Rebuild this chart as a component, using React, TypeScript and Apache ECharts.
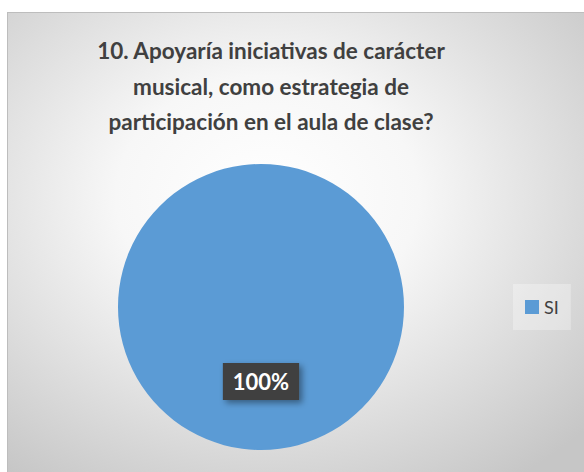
import React, { useEffect, useRef } from "react";
import * as echarts from "echarts";

const titleLines = [
  "10. Apoyaría iniciativas de carácter",
  "musical, como estrategia de",
  "participación en el aula de clase?",
];
const categories = ["SI"];
const values = [100];
const percentLabels = ["100%"];

export default function App() {
  const ref = useRef<HTMLDivElement>(null);
  useEffect(() => {
    if (!ref.current) return;
    const chart = echarts.init(ref.current, undefined, { renderer: "svg" });
    const font = "Lato, 'Open Sans', sans-serif";
    chart.setOption({
      animation: false,
      backgroundColor: {
        type: "radial",
        x: 0.45,
        y: 0.4,
        r: 0.75,
        colorStops: [
          { offset: 0, color: "#ffffff" },
          { offset: 0.35, color: "#f7f7f7" },
          { offset: 1, color: "#c6c6c6" },
        ],
      },
      title: {
        text: titleLines.join("\n"),
        left: 258,
        top: 15,
        textAlign: "center",
        textStyle: {
          fontFamily: font,
          fontWeight: "bold",
          fontSize: 22.5,
          lineHeight: 35.5,
          color: "#404040",
        },
      },
      legend: {
        orient: "vertical",
        left: 505,
        top: 271,
        padding: [14, 12, 14, 12],
        backgroundColor: "rgba(255,255,255,0.3)",
        itemWidth: 14,
        itemHeight: 14,
        itemGap: 4,
        icon: "rect",
        data: categories,
        textStyle: { fontFamily: font, fontSize: 18, color: "#404040" },
      },
      series: [
        {
          type: "pie",
          center: [253, 294],
          radius: [0, 143],
          startAngle: 90,
          data: categories.map((c, i) => ({
            name: c,
            value: values[i],
            itemStyle: { color: "#5B9BD5" },
          })),
          label: {
            show: true,
            position: "inside",
            formatter: (p: any) => percentLabels[p.dataIndex],
            fontFamily: font,
            fontWeight: "bold",
            fontSize: 22,
            color: "#ffffff",
            backgroundColor: "#404040",
            padding: [8, 10, 7, 10],
            shadowColor: "rgba(0,0,0,0.4)",
            shadowBlur: 6,
            shadowOffsetX: 3,
            shadowOffsetY: 3,
          },
          labelLine: { show: false },
          emphasis: { disabled: true },
        },
      ],
    });
    return () => chart.dispose();
  }, []);
  return (
    <div style={{ position: "fixed", left: 0, top: 0, width: 584, height: 472, background: "#ffffff" }}>
      <div
        ref={ref}
        style={{
          position: "absolute",
          left: 7,
          top: 12,
          width: 577,
          height: 460,
          boxSizing: "border-box",
          borderTop: "1px solid #bdbdbd",
          borderLeft: "1px solid #bdbdbd",
        }}
      />
    </div>
  );
}
